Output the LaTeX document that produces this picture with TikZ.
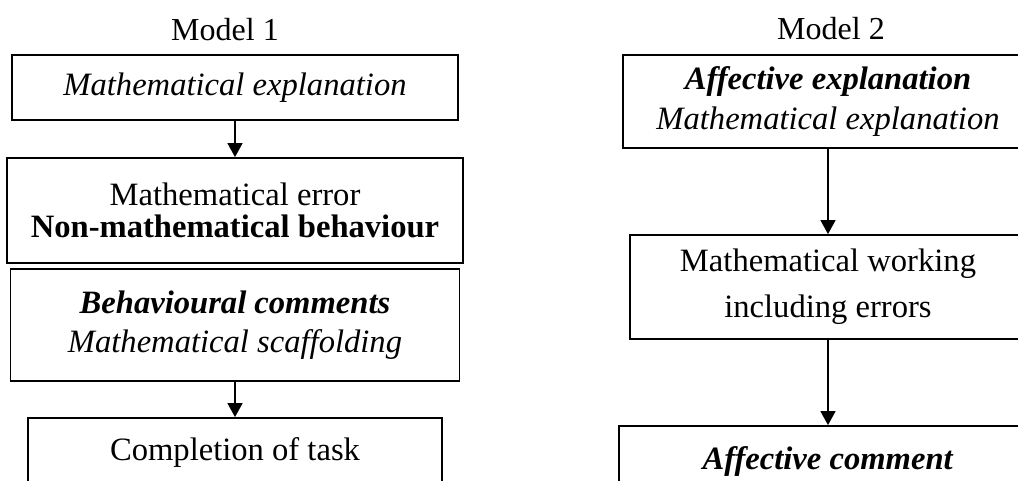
\documentclass[tikz,border=0pt]{standalone}
\usepackage{fontspec}
\setmainfont{Liberation Serif}
\usetikzlibrary{arrows.meta,positioning}

\begin{document}
\begin{tikzpicture}[
  x=0.5pt,y=-0.5pt,
  fbox/.style={draw,line width=0.9pt,align=center,inner sep=0pt,font=\fontsize{16.3}{16.3}\selectfont},
  ttl/.style={anchor=base,font=\fontsize{16}{16}\selectfont},
  arr/.style={-{Triangle[width=7.5pt,length=7pt]},line width=0.7pt},
]
  \useasboundingbox (0,0) rectangle (1018,481);
  \clip (0,0) rectangle (1018,481);
  % Model 1
  \node[ttl] (t1) at (225,41) {Model 1};
  \node[fbox,minimum width=223pt,minimum height=32.5pt] (l0) at (235,87.5)
    {\textit{Mathematical explanation}};
  \node[fbox,minimum width=228pt,minimum height=52.5pt] (l1) at (235,210.5)
    {Mathematical error\\ \textbf{Non-mathematical behaviour}};
  \node[fbox,minimum width=224.5pt,minimum height=56pt] (l2) at (235,325)
    {\textbf{\textit{Behavioural comments}}\\[3pt] \textit{Mathematical scaffolding}};
  \node[fbox,minimum width=207pt,minimum height=34pt] (l3) at (235,452)
    {Completion of task};
  \draw[arr] (l0.south) -- (l1.north);
  \draw[arr] (l2.south) -- (l3.north);
  % Model 2
  \node[ttl] (t2) at (831,40) {Model 2};
  \node[fbox,minimum width=205pt,minimum height=46.5pt] (r0) at (828,101.5)
    {\textbf{\textit{Affective explanation}}\\[3.5pt] \textit{Mathematical explanation}};
  \node[fbox,minimum width=198pt,minimum height=52pt] (r1) at (828,287)
    {Mathematical working\\[6.5pt] including errors};
  \node[fbox,minimum width=209pt,minimum height=35pt] (r2) at (828,461)
    {\textbf{\textit{Affective comment}}};
  \draw[arr] (r0.south) -- (r1.north);
  \draw[arr] (r1.south) -- (r2.north);
\end{tikzpicture}
\end{document}
